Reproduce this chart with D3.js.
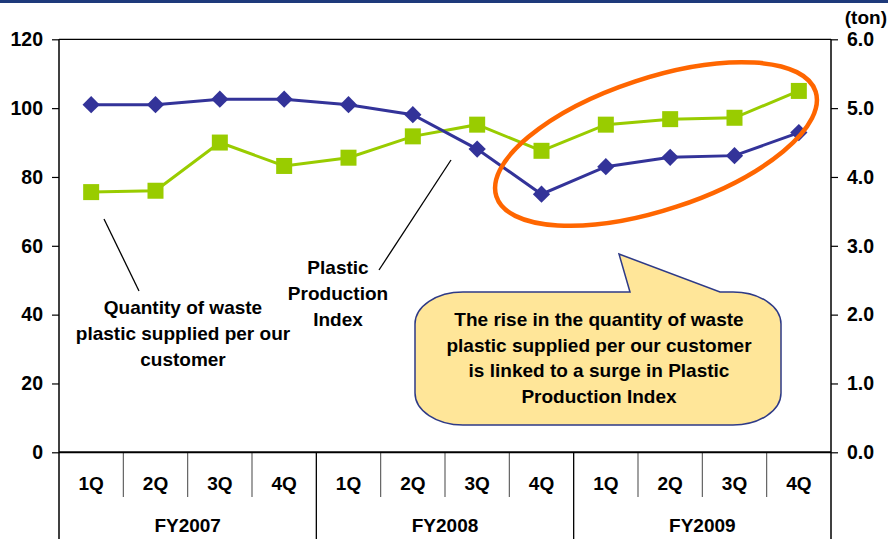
<!DOCTYPE html>
<html>
<head>
<meta charset="utf-8">
<script src="https://cdn.jsdelivr.net/npm/d3@7"></script>
<style>
  html, body { margin: 0; padding: 0; background: #fff; }
  svg { display: block; }
  text { font-family: "Liberation Sans", Arial, sans-serif; font-weight: bold; fill: #000; }
</style>
</head>
<body>
<script>
// Quarterly periods, grouped by fiscal year
const quarters = ["1Q", "2Q", "3Q", "4Q", "1Q", "2Q", "3Q", "4Q", "1Q", "2Q", "3Q", "4Q"];
const fiscalYears = ["FY2007", "FY2008", "FY2009"];

// Plastic Production Index (left axis)
const productionIndex = [101, 101, 102.6, 102.6, 101, 98.1, 88.1, 75, 83, 85.7, 86.2, 92.9];
// Waste plastic supplied per customer, tons (right axis)
const wasteTons = [3.78, 3.80, 4.50, 4.16, 4.28, 4.59, 4.76, 4.38, 4.76, 4.84, 4.86, 5.25];

const leftTicks = [0, 20, 40, 60, 80, 100, 120];
const rightTicks = [0, 1, 2, 3, 4, 5, 6];

const W = 888, H = 539;
const plot = { left: 59, right: 831, top: 39.3, bottom: 452.3 };
const FS = 19;

const svg = d3.select("body").append("svg").attr("width", W).attr("height", H);

// header rule
svg.append("rect").attr("x", 0).attr("y", 0).attr("width", W).attr("height", 3).attr("fill", "#1E3A7B");

const idx = d3.range(quarters.length);
const x = d3.scaleBand().domain(idx).range([plot.left, plot.right]).padding(0);
const yL = d3.scaleLinear().domain([0, 120]).range([plot.bottom, plot.top]);
const yR = d3.scaleLinear().domain([0, 6]).range([plot.bottom, plot.top]);
const cx = i => x(i) + x.bandwidth() / 2;

// frame: top edge
svg.append("line").attr("x1", plot.left).attr("x2", plot.right).attr("y1", plot.top).attr("y2", plot.top)
  .attr("stroke", "#000").attr("stroke-width", 1.2);

// left axis
const gL = svg.append("g").attr("transform", `translate(${plot.left},0)`)
  .call(d3.axisLeft(yL).tickValues(leftTicks).tickSize(7).tickPadding(9).tickFormat(d3.format("d")));
gL.select(".domain").remove();
gL.selectAll(".tick line").attr("stroke", "#000").attr("stroke-width", 1.2);
gL.selectAll(".tick text").attr("font-size", 19.5).attr("fill", "#000")
  .attr("font-family", "Liberation Sans, Arial, sans-serif").attr("font-weight", "bold");

// right axis
const gR = svg.append("g").attr("transform", `translate(${plot.right},0)`)
  .call(d3.axisRight(yR).tickValues(rightTicks).tickSize(7).tickPadding(9).tickFormat(d3.format(".1f")));
gR.select(".domain").remove();
gR.selectAll(".tick line").attr("stroke", "#000").attr("stroke-width", 1.2);
gR.selectAll(".tick text").attr("font-size", 19.5).attr("fill", "#000")
  .attr("font-family", "Liberation Sans, Arial, sans-serif").attr("font-weight", "bold");

svg.append("text").attr("x", 887).attr("y", 24).attr("text-anchor", "end")
  .attr("font-size", FS).text("(ton)");

// vertical axis lines (extend through the category table)
svg.append("line").attr("x1", plot.left).attr("x2", plot.left).attr("y1", plot.top).attr("y2", H)
  .attr("stroke", "#000").attr("stroke-width", 1.5);
svg.append("line").attr("x1", plot.right).attr("x2", plot.right).attr("y1", plot.top).attr("y2", H)
  .attr("stroke", "#000").attr("stroke-width", 1.5);

// category table: quarter dividers and fiscal year dividers
idx.slice(1).forEach(i => {
  const yearBoundary = i % 4 === 0;
  svg.append("line").attr("x1", x(i)).attr("x2", x(i))
    .attr("y1", plot.bottom).attr("y2", yearBoundary ? H : 497)
    .attr("stroke", yearBoundary ? "#000" : "#555").attr("stroke-width", yearBoundary ? 1.3 : 1.1);
});
svg.append("g").selectAll("text").data(quarters).join("text")
  .attr("x", (d, i) => cx(i)).attr("y", 489.5).attr("text-anchor", "middle")
  .attr("font-size", FS).text(d => d);
svg.append("g").selectAll("text").data(fiscalYears).join("text")
  .attr("x", (d, i) => (x(i * 4) + x(i * 4 + 3) + x.bandwidth()) / 2).attr("y", 532)
  .attr("text-anchor", "middle").attr("font-size", FS).text(d => d);

// baseline
svg.append("line").attr("x1", plot.left).attr("x2", plot.right).attr("y1", plot.bottom).attr("y2", plot.bottom)
  .attr("stroke", "#000").attr("stroke-width", 2);

// waste plastic series (green squares)
svg.append("path").datum(wasteTons)
  .attr("d", d3.line().x((d, i) => cx(i)).y(d => yR(d)))
  .attr("fill", "none").attr("stroke", "#99CC00").attr("stroke-width", 3);
svg.append("g").selectAll("rect").data(wasteTons).join("rect")
  .attr("x", (d, i) => cx(i) - 8).attr("y", d => yR(d) - 8)
  .attr("width", 16).attr("height", 16).attr("fill", "#99CC00");

// production index series (blue diamonds)
svg.append("path").datum(productionIndex)
  .attr("d", d3.line().x((d, i) => cx(i)).y(d => yL(d)))
  .attr("fill", "none").attr("stroke", "#333399").attr("stroke-width", 3);
svg.append("g").selectAll("path.dm").data(productionIndex).join("path").attr("class", "dm")
  .attr("d", d3.symbol().type(d3.symbolDiamond2).size(190))
  .attr("transform", (d, i) => `translate(${cx(i)},${yL(d)})`)
  .attr("fill", "#333399");

// highlight ellipse around the FY2009 recovery
svg.append("ellipse").attr("cx", 656).attr("cy", 144).attr("rx", 168).attr("ry", 66)
  .attr("transform", "rotate(-18.2 656 144)")
  .attr("fill", "none").attr("stroke", "#FF6600").attr("stroke-width", 4.5);

// series labels with leader lines
svg.append("line").attr("x1", 104).attr("y1", 219).attr("x2", 139).attr("y2", 291)
  .attr("stroke", "#000").attr("stroke-width", 1.3);
svg.append("line").attr("x1", 379).attr("y1", 270).attr("x2", 451).attr("y2", 160)
  .attr("stroke", "#000").attr("stroke-width", 1.3);

const seriesLabelA = ["Quantity of waste", "plastic supplied per our", "customer"];
svg.append("g").selectAll("text").data(seriesLabelA).join("text")
  .attr("x", 183).attr("y", (d, i) => 314 + i * 26).attr("text-anchor", "middle")
  .attr("font-size", FS).text(d => d);

const seriesLabelB = ["Plastic", "Production", "Index"];
svg.append("g").selectAll("text").data(seriesLabelB).join("text")
  .attr("x", 338).attr("y", (d, i) => 273.5 + i * 26).attr("text-anchor", "middle")
  .attr("font-size", FS).text(d => d);

// callout bubble
const bx0 = 415, bx1 = 781, by0 = 292, by1 = 425, rx = 48, ry = 32;
const bubble = [
  `M${bx0 + rx},${by0}`,
  `L630,${by0}`, `L619,254`, `L720,${by0}`,
  `L${bx1 - rx},${by0}`,
  `A${rx},${ry} 0 0 1 ${bx1},${by0 + ry}`,
  `L${bx1},${by1 - ry}`,
  `A${rx},${ry} 0 0 1 ${bx1 - rx},${by1}`,
  `L${bx0 + rx},${by1}`,
  `A${rx},${ry} 0 0 1 ${bx0},${by1 - ry}`,
  `L${bx0},${by0 + ry}`,
  `A${rx},${ry} 0 0 1 ${bx0 + rx},${by0}`, "Z"
].join(" ");
svg.append("path").attr("d", bubble).attr("fill", "#FFE699")
  .attr("stroke", "#2E3A87").attr("stroke-width", 1.5);

const calloutLines = [
  "The rise in the quantity of waste",
  "plastic supplied per our customer",
  "is linked to a surge in Plastic",
  "Production Index"
];
svg.append("g").selectAll("text").data(calloutLines).join("text")
  .attr("x", 599).attr("y", (d, i) => 326 + i * 25.6).attr("text-anchor", "middle")
  .attr("font-size", FS).text(d => d);
</script>
</body>
</html>
